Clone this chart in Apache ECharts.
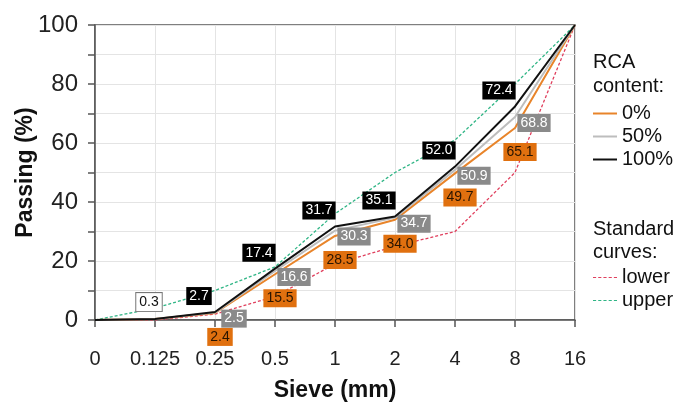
<!DOCTYPE html>
<html>
<head>
<meta charset="utf-8">
<script src="https://cdn.jsdelivr.net/npm/echarts@6/dist/echarts.min.js"></script>
<style>
html,body{margin:0;padding:0;background:#fff;}
#chart{width:678px;height:404px;}
</style>
</head>
<body>
<div id="chart"></div>
<script>
var sieves = ['0', '0.125', '0.25', '0.5', '1', '2', '4', '8', '16'];
var rca0   = [0, 0.3, 2.4, 15.5, 28.5, 34.0, 49.7, 65.1, 100];
var rca50  = [0, 0.3, 2.5, 16.6, 30.3, 34.7, 50.9, 68.8, 100];
var rca100 = [0, 0.3, 2.7, 17.4, 31.7, 35.1, 52.0, 72.4, 100];
var lower  = [0, 0, 2, 8, 19, 25, 30, 50, 100];
var upper  = [0, 4, 10, 18, 36, 50, 61, 80, 100];
var yTicks = [0, 20, 40, 60, 80, 100];

var FONT = 'Liberation Sans, Arial, sans-serif';
var DASH_ICON = 'path://M0,0h3v1h-3zM5,0h3v1h-3zM10,0h3v1h-3zM15,0h3v1h-3zM20,0h3v1h-3z';

function labelled(values, bg, fg, off, special) {
  return values.map(function (v, i) {
    var item = { value: v };
    if (i >= 2 && i <= 7) {
      item.label = {
        show: true, position: 'inside', offset: off,
        formatter: function (p) { return p.value.toFixed(1); },
        backgroundColor: bg, color: fg, padding: [2, 3, 2, 3],
        fontFamily: FONT, fontSize: 14
      };
    } else if (special && i === 1) {
      item.label = {
        show: true, position: 'inside', offset: [-6, -17],
        formatter: function (p) { return p.value.toFixed(1); },
        backgroundColor: '#fff', borderColor: '#777', borderWidth: 1,
        color: '#111', padding: [2, 3, 2, 3], fontFamily: FONT, fontSize: 14
      };
    } else {
      item.label = { show: false };
    }
    return item;
  });
}

var chart = echarts.init(document.getElementById('chart'), null, { renderer: 'canvas' });
var option = {
  animation: false,
  grid: {
    left: 95, right: 103, top: 25, bottom: 84, show: true,
    borderColor: '#555', borderWidth: 1.5, backgroundColor: 'transparent',
    containLabel: false, outerBoundsMode: 'none'
  },
  xAxis: {
    type: 'category', data: sieves, boundaryGap: false,
    name: 'Sieve (mm)', nameLocation: 'middle', nameGap: 59, nameMoveOverlap: false,
    nameTextStyle: { fontFamily: FONT, fontSize: 23, fontWeight: 'bold', color: '#111' },
    axisLine: { lineStyle: { color: '#555', width: 1.5 } },
    axisTick: { show: true, alignWithLabel: true, interval: 0, length: 7, lineStyle: { color: '#555', width: 1.5 } },
    axisLabel: { fontFamily: FONT, fontSize: 20, color: '#222', margin: 29, interval: 0 },
    splitLine: { show: true, interval: 0, lineStyle: { color: '#e4e4e4', width: 1 } }
  },
  yAxis: {
    type: 'value', min: 0, max: 100, interval: 10,
    name: 'Passing (%)', nameLocation: 'middle', nameGap: 58, nameMoveOverlap: false,
    nameTextStyle: { fontFamily: FONT, fontSize: 23, fontWeight: 'bold', color: '#111' },
    axisLine: { show: true, lineStyle: { color: '#555', width: 1.5 } },
    axisTick: { show: true, length: 7, lineStyle: { color: '#555', width: 1.5 } },
    axisLabel: {
      fontFamily: FONT, fontSize: 24, color: '#222', margin: 17,
      formatter: function (v) { return yTicks.indexOf(v) >= 0 ? String(v) : ''; }
    },
    splitLine: { show: true, lineStyle: { color: '#e4e4e4', width: 1 } }
  },
  legend: [
    {
      data: [{ name: '0%', icon: 'rect' }, { name: '50%', icon: 'rect' }, { name: '100%', icon: 'rect' }],
      orient: 'vertical', left: 593, top: 102, padding: 0,
      itemWidth: 24, itemHeight: 2, itemGap: 0,
      textStyle: { fontFamily: FONT, fontSize: 20, color: '#111', lineHeight: 23 },
      selectedMode: false
    },
    {
      data: [{ name: 'lower', icon: DASH_ICON }, { name: 'upper', icon: DASH_ICON }],
      orient: 'vertical', left: 593, top: 266, padding: 0,
      itemWidth: 24, itemHeight: 1.6, itemGap: 0,
      textStyle: { fontFamily: FONT, fontSize: 20, color: '#111', lineHeight: 23 },
      selectedMode: false
    }
  ],
  graphic: [
    { type: 'text', left: 593, top: 50, style: { text: 'RCA\ncontent:', fontFamily: FONT, fontSize: 20, lineHeight: 24, fill: '#111' } },
    { type: 'text', left: 593, top: 218, style: { text: 'Standard\ncurves:', fontFamily: FONT, fontSize: 20, lineHeight: 23, fill: '#111' } }
  ],
  series: [
    {
      name: 'lower', type: 'line', data: lower, symbol: 'none', z: 2,
      lineStyle: { color: '#e0405e', width: 1.3, type: [3, 2] }, itemStyle: { color: '#e0405e' }
    },
    {
      name: 'upper', type: 'line', data: upper, symbol: 'none', z: 2,
      lineStyle: { color: '#2fb585', width: 1.3, type: [3, 2] }, itemStyle: { color: '#2fb585' }
    },
    {
      name: '0%', type: 'line', data: labelled(rca0, '#e0700f', '#2a1500', [5, 24]),
      symbol: 'circle', symbolSize: 0.1, z: 3,
      lineStyle: { color: '#e8842a', width: 2 }, itemStyle: { color: '#e8842a' }
    },
    {
      name: '50%', type: 'line', data: labelled(rca50, '#8a8a8a', '#fff', [19, 6]),
      symbol: 'circle', symbolSize: 0.1, z: 4,
      lineStyle: { color: '#bdbdbd', width: 2 }, itemStyle: { color: '#bdbdbd' }
    },
    {
      name: '100%', type: 'line', data: labelled(rca100, '#000', '#fff', [-16, -16], true),
      symbol: 'circle', symbolSize: 0.1, z: 5,
      lineStyle: { color: '#111', width: 2 }, itemStyle: { color: '#111' }
    }
  ]
};
chart.setOption(option);
</script>
</body>
</html>
